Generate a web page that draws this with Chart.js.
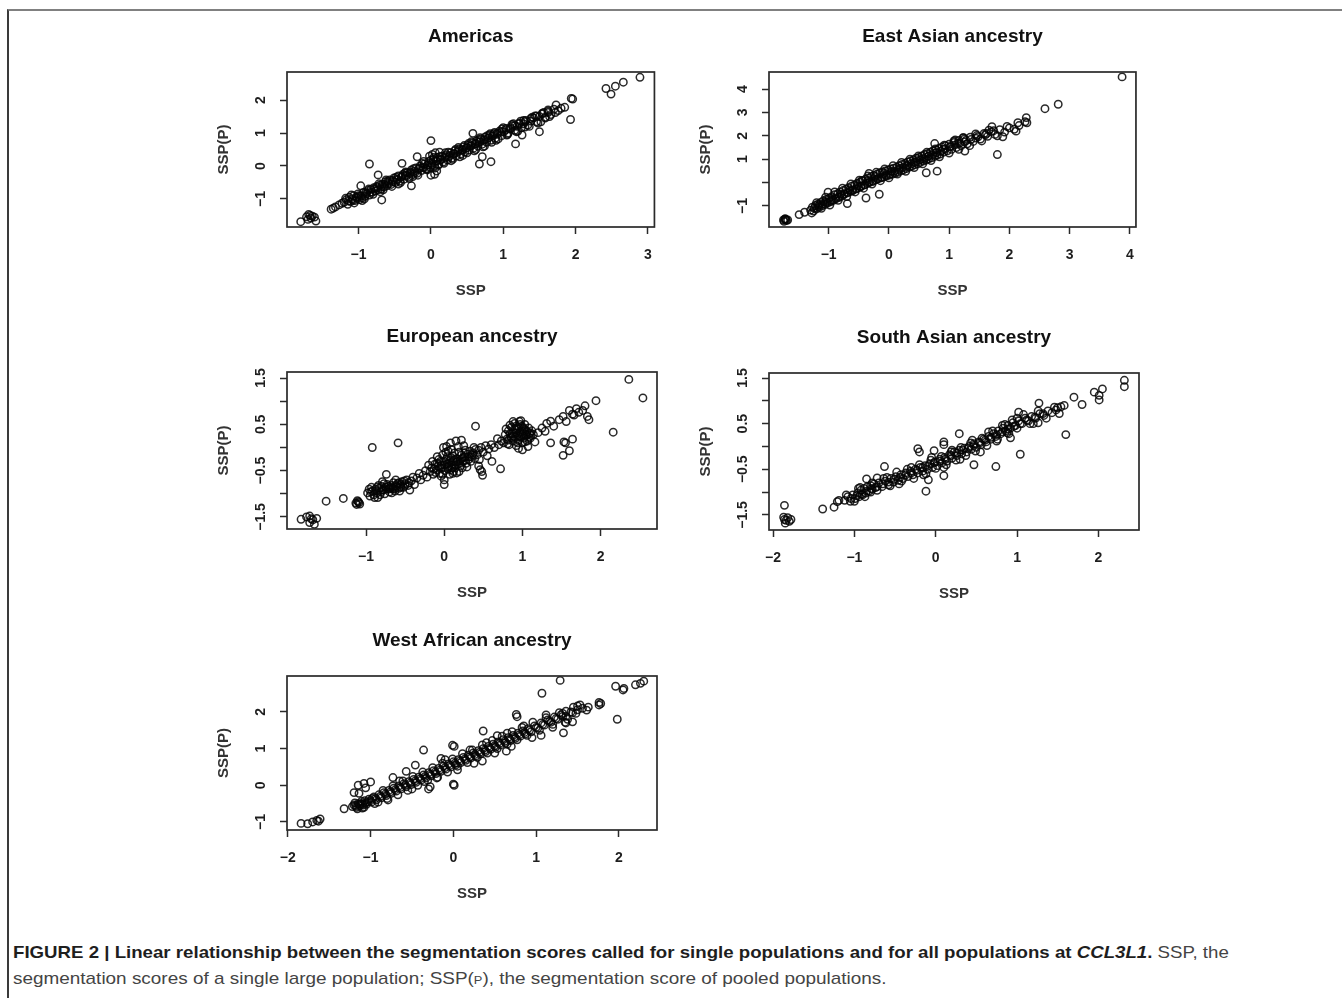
<!DOCTYPE html>
<html>
<head>
<meta charset="utf-8">
<script src="https://cdn.jsdelivr.net/npm/chart.js@4.4.0/dist/chart.umd.min.js"></script>
<style>
  body { margin: 0; background: #fff; width: 1342px; height: 998px; overflow: hidden; position: relative;
         font-family: "Liberation Sans", Arial, sans-serif; }
  .frame { position: absolute; left: 7px; top: 9px; width: 1345px; height: 1000px;
           border-top: 2px solid #808080; border-left: 2px solid #3a3a3a; }
  .panel { position: absolute; }
  .cap-line { position: absolute; left: 13px; white-space: nowrap; font-size: 17px; line-height: 26px;
              color: #444; transform-origin: 0 50%; }
  .cap-line b { color: #1e1e1e; }
  .sc { font-size: 68%; }
</style>
</head>
<body>
<div class="frame"></div>
<div id="panels"></div>
<div class="cap-line" data-w="1216" style="top:940px"><b>FIGURE 2 | Linear relationship between the segmentation scores called for single populations and for all populations at <i>CCL3L1</i>.</b> SSP, the</div>
<div class="cap-line" data-w="874" style="top:966px">segmentation scores of a single large population; SSP(<span class="sc">P</span>), the segmentation score of pooled populations.</div>

<script>
// ---- data: [SSP, SSP(P)] per sample ----
const americasPts = [
  [-1.80,-1.69],[-1.72,-1.54],[-1.69,-1.47],[-1.66,-1.58],[-1.64,-1.52],[-1.61,-1.55],[-1.59,-1.67],[-1.70,-1.62],[-1.67,-1.50],
  [-1.38,-1.31],[-1.35,-1.28],[-1.32,-1.24],[-1.27,-1.18],[-1.23,-1.13],
  [-1.20,-1.10],[-1.17,-1.02],[-1.15,-1.16],[-1.13,-0.95],[-1.11,-1.08],[-1.09,-1.00],[-1.07,-0.90],[-1.05,-1.05],
  [-1.03,-0.94],[-1.01,-0.85],[-0.99,-1.02],[-0.97,-0.90],[-0.95,-0.97],[-0.93,-0.80],[-0.91,-0.92],[-0.89,-0.84],
  [-0.87,-0.74],[-0.85,-0.88],[-0.83,-0.71],[-0.81,-0.80],[-0.79,-0.66],[-0.77,-0.76],[-0.75,-0.62],[-0.73,-0.72],
  [-0.71,-0.58],[-0.69,-0.70],[-0.67,-0.55],[-0.65,-0.64],[-0.63,-0.48],[-0.61,-0.60],[-0.59,-0.50],[-0.57,-0.42],
  [-0.55,-0.56],[-0.53,-0.44],[-0.51,-0.36],[-0.49,-0.50],[-0.47,-0.40],[-0.45,-0.30],[-0.43,-0.46],[-0.41,-0.34],
  [-0.39,-0.26],[-0.37,-0.40],[-0.35,-0.28],[-0.33,-0.20],[-0.31,-0.34],[-0.29,-0.22],[-0.27,-0.12],[-0.25,-0.26],
  [-0.23,-0.16],[-0.21,-0.06],[-0.19,-0.22],[-0.17,-0.10],[-0.15,0.00],[-0.13,-0.14],[-0.11,-0.04],[-0.09,0.06],
  [-0.07,-0.08],[-0.05,0.02],[-0.03,0.14],[-0.01,-0.04],[0.01,0.08],[0.03,0.20],[0.05,0.00],[0.07,0.14],
  [0.09,0.26],[0.11,0.06],[0.13,0.18],[0.15,0.30],[0.17,0.12],[0.19,0.24],[0.21,0.34],[0.23,0.18],
  [0.25,0.28],[0.27,0.40],[0.29,0.24],[0.31,0.36],[0.33,0.46],[0.35,0.30],[0.37,0.42],[0.39,0.52],
  [0.41,0.36],[0.43,0.48],[0.45,0.58],[0.47,0.42],[0.49,0.54],[0.51,0.64],[0.53,0.48],[0.55,0.60],
  [0.57,0.70],[0.59,0.54],[0.61,0.66],[0.63,0.76],[0.65,0.60],[0.67,0.72],[0.69,0.82],[0.71,0.66],
  [0.73,0.78],[0.75,0.88],[0.77,0.72],[0.79,0.84],[0.81,0.94],[0.83,0.78],[0.85,0.90],[0.87,0.98],
  [0.89,0.84],[0.92,0.96],[0.95,1.06],[0.98,0.92],[1.01,1.04],[1.04,1.14],[1.07,1.00],[1.10,1.12],
  [1.13,1.22],[1.16,1.08],[1.19,1.20],[1.22,1.30],[1.25,1.16],[1.28,1.28],[1.31,1.38],[1.34,1.24],
  [1.38,1.36],[1.42,1.46],[1.46,1.34],[1.50,1.50],[1.54,1.58],[1.58,1.48],[1.62,1.62],[1.66,1.56],
  [1.70,1.72],[1.76,1.68],
  [-1.10,-0.88],[-0.95,-1.05],[-0.70,-0.78],[-0.62,-0.42],[-0.45,-0.55],[-0.35,-0.18],[-0.25,-0.32],[-0.10,0.14],
  [-0.05,-0.12],[0.04,0.26],[0.10,0.02],[0.20,0.40],[0.30,0.20],[0.38,0.56],[0.44,0.32],[0.52,0.68],
  [0.60,0.46],[0.68,0.86],[0.74,0.60],[0.82,0.98],[0.90,0.78],[0.98,1.12],[1.05,0.94],[1.14,1.28],
  [1.20,1.05],[1.28,1.38],[1.36,1.20],[1.44,1.52],[1.52,1.34],[1.62,1.66],[1.58,1.45],[1.80,1.75],
  [-1.18,-0.98],[-1.06,-1.12],[-1.00,-0.90],[-0.92,-1.00],[-0.86,-0.70],[-0.80,-0.86],[-0.72,-0.54],[-0.66,-0.72],
  [-0.60,-0.46],[-0.54,-0.62],[-0.48,-0.34],[-0.42,-0.50],[-0.36,-0.22],[-0.30,-0.38],[-0.24,-0.08],[-0.18,-0.28],
  [-0.12,0.08],[-0.06,-0.10],[0.00,0.18],[0.06,-0.06],[0.12,0.28],[0.18,0.08],[0.24,0.42],[0.28,0.16],
  [0.34,0.50],[0.40,0.28],[0.46,0.62],[0.50,0.40],[0.56,0.74],[0.62,0.50],[0.66,0.80],[0.72,0.58],
  [0.78,0.92],[0.84,0.72],[0.88,1.02],[0.93,0.82],[1.00,1.16],[1.06,0.96],[1.12,1.26],[1.18,1.04],
  [1.24,1.36],[1.30,1.18],[1.40,1.48],[1.48,1.30],[1.56,1.62],[1.64,1.50],[1.72,1.62],
  [-1.14,-1.06],[-1.08,-1.04],[-1.02,-0.98],[-0.96,-0.92],[-0.90,-0.80],[-0.84,-0.80],[-0.78,-0.70],[-0.74,-0.66],
  [-0.68,-0.62],[-0.64,-0.56],[-0.58,-0.54],[-0.52,-0.48],[-0.46,-0.42],[-0.40,-0.32],[-0.34,-0.30],[-0.28,-0.18],
  [-0.22,-0.20],[-0.16,-0.06],[-0.10,-0.06],[-0.04,0.04],[0.02,0.04],[0.08,0.16],[0.14,0.20],[0.20,0.28],
  [0.26,0.32],[0.32,0.38],[0.38,0.46],[0.44,0.50],[0.50,0.56],[0.56,0.62],[0.62,0.68],[0.68,0.74],
  [0.74,0.80],[0.80,0.86],[0.86,0.92],[0.92,1.00],[0.98,1.04],[1.04,1.10],[1.10,1.16],[1.16,1.22],
  [1.22,1.28],[1.30,1.34],[1.38,1.44],[1.46,1.52],[1.54,1.60],[1.62,1.70],
  [0.00,-0.28],[0.02,0.35],[0.06,0.40],[0.08,-0.15],[-0.02,0.30],[0.05,-0.25],[0.12,0.42],
  [-0.85,0.06],[-0.73,-0.27],[-0.68,-1.03],[-0.97,-0.60],[-0.19,0.28],[-0.40,0.08],[-0.27,-0.60],
  [0.00,0.77],[0.58,0.99],[0.67,0.06],[0.71,0.28],[0.83,0.13],[1.17,0.67],[1.26,0.94],[1.50,1.04],
  [1.93,1.41],[1.96,2.03],[1.94,2.05],[1.73,1.85],[1.85,1.78],[2.42,2.35],[2.49,2.18],[2.55,2.42],
  [2.66,2.54],[2.89,2.69]
];

const eastAsianPts = [
  [-1.75,-1.60],[-1.72,-1.55],[-1.70,-1.62],[-1.74,-1.66],[-1.71,-1.58],[-1.68,-1.60],[-1.73,-1.57],
  [-1.49,-1.37],[-1.40,-1.27],
  [-1.30,-1.18],[-1.27,-1.05],[-1.25,-1.22],[-1.22,-0.98],[-1.20,-1.12],[-1.18,-0.92],[-1.16,-1.06],[-1.13,-0.85],
  [-1.11,-1.00],[-1.09,-0.78],[-1.06,-0.94],[-1.04,-0.72],[-1.02,-0.88],[-0.99,-0.66],[-0.97,-0.82],[-0.95,-0.60],
  [-0.92,-0.76],[-0.90,-0.52],[-0.88,-0.70],[-0.85,-0.48],[-0.83,-0.64],[-0.81,-0.40],[-0.78,-0.58],[-0.76,-0.34],
  [-0.74,-0.50],[-0.71,-0.28],[-0.69,-0.44],[-0.67,-0.22],[-0.64,-0.38],[-0.62,-0.16],[-0.60,-0.32],[-0.57,-0.10],
  [-0.55,-0.28],[-0.53,-0.04],[-0.50,-0.22],[-0.48,0.02],[-0.46,-0.16],[-0.43,0.08],[-0.41,-0.10],[-0.39,0.14],
  [-0.36,-0.04],[-0.34,0.20],[-0.32,0.02],[-0.29,0.26],[-0.27,0.06],[-0.25,0.30],[-0.22,0.12],[-0.20,0.36],
  [-0.18,0.16],[-0.15,0.42],[-0.13,0.20],[-0.11,0.46],[-0.08,0.24],[-0.06,0.50],[-0.04,0.28],[-0.01,0.54],
  [0.01,0.32],[0.03,0.58],[0.06,0.36],[0.08,0.62],[0.10,0.40],[0.13,0.66],[0.15,0.44],[0.17,0.72],
  [0.20,0.50],[0.22,0.78],[0.24,0.54],[0.27,0.82],[0.29,0.60],[0.31,0.88],[0.34,0.66],[0.36,0.92],
  [0.38,0.70],[0.41,0.98],[0.43,0.76],[0.45,1.04],[0.48,0.80],[0.50,1.08],[0.52,0.86],[0.55,1.14],
  [0.57,0.92],[0.59,1.20],[0.62,0.96],[0.64,1.24],[0.66,1.02],[0.69,1.30],[0.71,1.06],[0.73,1.36],
  [0.76,1.12],[0.78,1.40],[0.80,1.18],[0.83,1.46],[0.85,1.22],[0.88,1.52],[0.91,1.30],[0.94,1.58],
  [0.97,1.36],[1.00,1.64],[1.04,1.42],[1.08,1.72],[1.12,1.50],[1.16,1.80],[1.20,1.58],[1.25,1.86],
  [1.30,1.66],[1.35,1.94],[1.40,1.76],[1.46,2.02],[1.52,1.86],[1.58,2.10],[1.64,1.98],[1.70,2.18],
  [1.76,2.06],[1.84,2.26],[1.92,2.16],[2.00,2.34],[2.08,2.28],[2.16,2.44],[2.26,2.60],
  [-1.15,-0.95],[-1.05,-0.82],[-0.95,-0.74],[-0.80,-0.50],[-0.65,-0.30],[-0.52,-0.14],[-0.35,0.08],[-0.22,0.26],
  [-0.08,0.40],[0.05,0.48],[0.18,0.60],[0.30,0.74],[0.42,0.86],[0.54,1.00],[0.66,1.14],[0.78,1.28],
  [0.90,1.42],[1.02,1.54],[1.14,1.66],[1.28,1.80],[1.44,1.90],[1.60,2.04],
  [-1.28,-1.30],[-1.20,-0.86],[-1.12,-1.10],[-1.05,-0.62],[-0.98,-0.96],[-0.90,-0.40],[-0.84,-0.76],[-0.77,-0.24],
  [-0.70,-0.60],[-0.63,-0.06],[-0.56,-0.40],[-0.49,0.10],[-0.42,-0.24],[-0.35,0.28],[-0.28,-0.06],[-0.21,0.44],
  [-0.14,0.08],[-0.07,0.58],[0.00,0.20],[0.07,0.72],[0.14,0.36],[0.21,0.86],[0.28,0.48],[0.35,1.00],
  [0.42,0.64],[0.49,1.14],[0.56,0.80],[0.63,1.30],[0.70,0.94],[0.77,1.44],[0.84,1.10],[0.92,1.60],
  [1.00,1.26],[1.08,1.78],[1.16,1.42],[1.24,1.92],[1.34,1.58],[1.44,2.08],[1.54,1.78],[1.66,2.24],
  [1.80,2.00],[1.96,2.40],
  [-1.24,-1.10],[-1.17,-1.00],[-1.10,-0.92],[-1.03,-0.84],[-0.96,-0.78],[-0.89,-0.66],[-0.82,-0.60],[-0.75,-0.50],
  [-0.68,-0.42],[-0.61,-0.36],[-0.54,-0.26],[-0.47,-0.18],[-0.40,-0.10],[-0.33,0.00],[-0.26,0.06],[-0.19,0.16],
  [-0.12,0.22],[-0.05,0.32],[0.02,0.38],[0.09,0.48],[0.16,0.54],[0.23,0.64],[0.30,0.70],[0.37,0.80],
  [0.44,0.86],[0.51,0.96],[0.58,1.02],[0.65,1.12],[0.72,1.18],[0.79,1.28],[0.86,1.34],[0.93,1.44],
  [1.01,1.52],[1.09,1.60],[1.17,1.68],[1.26,1.74],[1.36,1.84],[1.48,1.96],[1.62,2.10],[1.74,2.22],
  [-1.01,-0.41],[-0.69,-0.90],[-0.38,-0.66],[-0.45,0.09],[-0.33,0.39],[-0.16,-0.50],[0.80,0.49],[0.62,0.42],
  [1.26,1.35],[1.23,1.92],[1.10,1.82],[0.76,1.67],[1.80,1.20],[1.89,1.96],[1.71,2.39],[2.11,2.20],
  [2.14,2.56],[2.29,2.56],[2.28,2.78],[2.59,3.16],[2.81,3.35],[3.87,4.52]
];

const europeanPts = [
  [-1.83,-1.55],[-1.76,-1.50],[-1.72,-1.48],[-1.68,-1.56],[-1.72,-1.62],[-1.63,-1.53],[-1.70,-1.54],[-1.66,-1.66],
  [-1.51,-1.16],[-1.29,-1.10],
  [-1.13,-1.20],[-1.10,-1.17],[-1.08,-1.22],[-1.11,-1.15],[-1.09,-1.19],[-1.12,-1.23],
  [-0.98,-0.98],[-0.95,-1.05],[-0.92,-0.94],[-0.90,-1.02],[-0.88,-0.90],[-0.86,-0.98],[-0.85,-1.08],[-0.83,-0.88],
  [-0.81,-0.96],[-0.80,-0.84],[-0.78,-0.92],[-0.76,-1.00],[-0.75,-0.86],[-0.73,-0.80],[-0.71,-0.90],[-0.70,-0.96],
  [-0.68,-0.82],[-0.66,-0.88],[-0.65,-0.76],[-0.63,-0.94],[-0.61,-0.84],[-0.60,-0.78],[-0.58,-0.88],[-0.56,-0.80],
  [-0.54,-0.74],[-0.52,-0.86],[-0.50,-0.78],[-0.48,-0.70],[-0.46,-0.82],[-0.44,-0.92],[-0.42,-0.72],[-0.40,-0.64],
  [-0.38,-0.80],[-0.74,-0.58],[-0.84,-0.82],[-0.93,-0.86],
  [-0.96,-0.90],[-0.89,-1.08],[-0.82,-1.02],[-0.77,-0.78],[-0.69,-0.88],[-0.62,-0.70],[-0.57,-0.94],[-0.51,-0.72],
  [-0.45,-0.76],[-0.79,-0.74],[-0.67,-0.98],[-0.55,-0.86],
  [-0.94,-0.96],[-0.87,-0.94],[-0.80,-0.92],[-0.74,-0.90],[-0.68,-0.86],[-0.62,-0.82],[-0.56,-0.84],[-0.50,-0.82],
  [-0.72,-0.84],[-0.64,-0.90],[-0.86,-0.86],[-0.58,-0.76],
  [-0.35,-0.66],[-0.32,-0.56],[-0.30,-0.70],[-0.27,-0.60],[-0.24,-0.50],[-0.22,-0.64],[-0.20,-0.38],
  [-0.18,-0.52],[-0.16,-0.44],[-0.14,-0.58],[-0.12,-0.36],[-0.10,-0.48],[-0.08,-0.40],[-0.06,-0.56],[-0.05,-0.30],
  [-0.03,-0.44],[-0.02,-0.16],[0.00,-0.38],[0.01,-0.50],[0.02,-0.26],[0.04,-0.42],[0.05,-0.08],[0.06,-0.34],
  [0.08,-0.48],[0.09,-0.22],[0.10,-0.38],[0.12,-0.30],[0.13,-0.12],[0.14,-0.44],[0.16,-0.24],[0.17,-0.36],
  [0.18,0.02],[0.20,-0.28],[0.21,-0.40],[0.22,-0.16],[0.24,-0.30],[0.25,0.04],[0.26,-0.20],[0.28,-0.34],
  [0.30,-0.14],[0.31,-0.26],[0.33,-0.08],[0.35,-0.20],[0.37,-0.12],[0.39,-0.24],[0.40,-0.04],[0.42,-0.16],
  [0.44,-0.06],[-0.01,0.00],[0.03,0.02],[0.08,0.10],[0.15,0.14],[0.22,0.16],[-0.04,-0.62],[0.07,-0.58],
  [0.11,-0.56],[0.19,-0.52],[0.44,-0.40],[0.46,-0.48],
  [-0.15,-0.30],[-0.11,-0.54],[-0.07,-0.26],[-0.02,-0.58],[0.02,-0.10],[0.05,-0.46],[0.09,-0.04],[0.12,-0.52],
  [0.15,-0.32],[0.19,-0.10],[0.23,-0.44],[0.27,-0.06],[0.29,-0.42],[0.34,-0.30],[0.38,0.00],[0.11,-0.18],
  [0.04,-0.20],[-0.09,-0.20],[0.24,-0.22],
  [-0.13,-0.46],[-0.09,-0.34],[-0.04,-0.38],[0.00,-0.30],[0.03,-0.36],[0.07,-0.28],[0.10,-0.44],[0.13,-0.26],
  [0.17,-0.30],[0.20,-0.34],[0.23,-0.24],[0.27,-0.28],[0.32,-0.20],[0.36,-0.16],[0.06,-0.40],[0.14,-0.38],
  [-0.06,-0.44],[0.26,-0.12],
  [0.00,-0.80],[0.00,-0.70],[0.16,-0.55],[0.40,0.46],[0.48,-0.52],[0.61,-0.30],[0.72,-0.46],[0.49,-0.60],
  [0.47,0.00],[0.50,-0.10],[0.53,0.04],[0.57,-0.03],[0.60,0.06],[0.64,0.00],[0.68,0.19],[0.70,0.06],
  [0.73,0.14],[0.55,-0.18],[0.45,-0.26],
  [0.76,0.10],[0.78,0.28],[0.80,0.18],[0.82,0.36],[0.83,0.06],[0.85,0.24],[0.86,0.44],[0.88,0.14],
  [0.89,0.32],[0.90,0.52],[0.91,0.22],[0.92,0.04],[0.93,0.40],[0.94,0.28],[0.95,0.16],[0.96,0.56],
  [0.97,0.34],[0.98,0.22],[0.99,0.46],[1.00,0.10],[1.01,0.30],[1.02,0.20],[1.03,0.50],[1.04,0.38],
  [1.05,0.26],[1.06,0.14],[1.08,0.42],[1.09,0.30],[1.10,0.20],[1.12,0.36],[1.14,0.28],[0.88,0.56],
  [0.95,-0.02],[1.00,-0.05],[1.07,0.02],[1.16,0.12],[0.84,0.48],[0.98,0.58],
  [0.79,0.40],[0.81,0.08],[0.87,0.30],[0.92,0.46],[0.94,0.10],[0.97,0.50],[1.01,0.40],[1.03,0.12],
  [1.06,0.34],[1.11,0.26],[0.86,0.20],[0.99,0.28],
  [0.84,0.30],[0.88,0.24],[0.92,0.32],[0.96,0.24],[1.00,0.34],[1.04,0.28],[1.08,0.22],[0.90,0.40],
  [0.95,0.44],[1.02,0.42],[0.82,0.16],[1.10,0.32],
  [1.20,0.32],[1.25,0.42],[1.29,0.35],[1.31,0.52],[1.36,0.57],[1.40,0.46],[1.47,0.60],[1.52,0.67],
  [1.56,0.56],[1.60,0.80],[1.64,0.72],[1.69,0.84],[1.72,0.76],[1.77,0.80],[1.80,0.90],[1.83,0.67],
  [1.85,0.60],[1.66,0.70],[1.36,0.10],[1.52,-0.17],[1.60,-0.07],[1.53,0.12],[1.55,0.10],[1.64,0.18],
  [1.94,1.01],[2.16,0.33],[2.36,1.47],[2.54,1.07],
  [-0.92,0.00],[-0.59,0.10]
];

const southAsianPts = [
  [-1.86,-1.29],[-1.87,-1.55],[-1.84,-1.62],[-1.80,-1.64],[-1.85,-1.68],[-1.82,-1.56],[-1.78,-1.60],[-1.86,-1.60],
  [-1.39,-1.37],[-1.25,-1.33],[-1.21,-1.21],[-1.19,-1.18],
  [-1.12,-1.18],[-1.08,-1.10],[-1.05,-1.20],[-1.02,-1.06],[-0.99,-1.14],[-0.96,-1.02],[-0.94,-1.10],[-0.92,-0.96],
  [-0.90,-1.06],[-0.88,-0.92],[-0.86,-1.02],[-0.84,-0.88],[-0.82,-0.98],[-0.80,-0.86],[-0.78,-0.94],[-0.76,-0.82],
  [-0.74,-0.90],[-0.70,-0.80],[-0.66,-0.88],[-0.62,-0.76],[-0.58,-0.84],[-0.55,-0.70],[-0.52,-0.78],[-0.49,-0.66],
  [-0.46,-0.74],[-0.43,-0.62],[-0.40,-0.70],[-0.37,-0.58],[-0.34,-0.66],[-0.31,-0.54],[-0.28,-0.62],[-0.25,-0.50],
  [-0.22,-0.58],[-0.19,-0.46],[-0.16,-0.54],[-0.13,-0.42],[-0.10,-0.50],[-0.07,-0.38],[-0.04,-0.46],[-0.01,-0.34],
  [0.02,-0.42],[0.05,-0.28],[0.08,-0.36],[0.11,-0.24],[0.14,-0.32],[0.17,-0.18],[0.20,-0.26],[0.23,-0.12],
  [0.26,-0.20],[0.29,-0.08],[0.32,-0.16],[0.35,-0.04],[0.38,-0.12],[0.41,0.00],[0.44,-0.06],[0.47,0.06],
  [0.50,-0.02],[0.53,0.10],[0.56,0.04],[0.59,0.16],[0.62,0.10],[0.65,0.22],[0.68,0.16],[0.71,0.28],
  [0.74,0.22],[0.77,0.34],[0.80,0.28],[0.83,0.40],[0.86,0.34],[0.89,0.46],[0.92,0.40],[0.95,0.52],
  [0.98,0.46],[1.02,0.56],[1.06,0.50],[1.10,0.62],[1.14,0.56],[1.18,0.66],[1.23,0.62],[1.28,0.72],
  [1.33,0.68],[1.38,0.78],[1.43,0.74],[1.58,0.90],
  [-0.95,-0.92],[-0.80,-1.00],[-0.60,-0.68],[-0.45,-0.82],[-0.30,-0.46],[-0.15,-0.62],[-0.05,-0.24],[0.10,-0.46],
  [0.20,-0.08],[0.30,-0.28],[0.45,0.14],[0.55,-0.12],[0.65,0.32],[0.75,0.12],[0.85,0.48],[0.90,0.28],
  [1.00,0.62],[1.20,0.50],
  [-1.10,-1.06],[-1.00,-1.20],[-0.93,-0.90],[-0.87,-1.10],[-0.78,-0.80],[-0.72,-0.96],[-0.64,-0.70],[-0.56,-0.86],
  [-0.48,-0.56],[-0.42,-0.76],[-0.35,-0.50],[-0.27,-0.70],[-0.20,-0.40],[-0.12,-0.60],[-0.06,-0.30],[0.00,-0.48],
  [0.07,-0.22],[0.13,-0.40],[0.19,-0.12],[0.25,-0.30],[0.31,-0.02],[0.37,-0.20],[0.43,0.08],[0.49,-0.10],
  [0.57,0.18],[0.63,0.02],[0.70,0.34],[0.76,0.16],[0.82,0.46],[0.88,0.30],[0.94,0.58],[1.00,0.40],
  [1.08,0.70],[1.16,0.50],[1.26,0.78],[1.36,0.62],[1.46,0.86],
  [-1.04,-1.14],[-0.97,-1.08],[-0.91,-1.04],[-0.85,-0.98],[-0.79,-0.92],[-0.72,-0.88],[-0.65,-0.82],[-0.58,-0.78],
  [-0.51,-0.72],[-0.44,-0.68],[-0.37,-0.62],[-0.30,-0.58],[-0.23,-0.52],[-0.16,-0.46],[-0.09,-0.42],[-0.02,-0.36],
  [0.05,-0.32],[0.12,-0.28],[0.19,-0.20],[0.26,-0.14],[0.33,-0.08],[0.40,-0.04],[0.47,0.02],[0.54,0.08],
  [0.61,0.14],[0.68,0.20],[0.75,0.26],[0.82,0.32],[0.89,0.38],[0.96,0.44],[1.04,0.50],[1.12,0.58],
  [1.22,0.64],[1.32,0.72],
  [-0.63,-0.44],[-0.85,-0.71],[-0.72,-0.69],[-0.22,-0.05],[-0.20,-0.12],[-0.12,-0.98],[-0.09,-0.73],[-0.02,-0.09],
  [0.10,0.10],[0.10,0.04],[0.10,-0.64],[0.29,0.28],[0.47,-0.40],[0.74,-0.44],[0.92,0.19],[1.04,-0.17],
  [1.02,0.75],[1.27,0.95],[1.26,0.52],[1.60,0.26],[1.70,1.08],[1.80,0.92],[1.50,0.85],[1.54,0.87],
  [1.48,0.80],[1.52,0.72],[1.95,1.19],[2.01,1.12],[2.05,1.26],[2.01,1.02],[2.32,1.45],[2.32,1.31]
];

const westAfricanPts = [
  [-1.84,-1.04],[-1.76,-1.05],[-1.70,-1.00],[-1.65,-0.96],[-1.61,-0.92],[-1.63,-0.98],
  [-1.32,-0.64],
  [-1.20,-0.20],[-1.15,0.00],[-1.08,0.05],[-1.00,0.09],[-1.14,-0.22],[-1.06,-0.07],
  [-1.22,-0.58],[-1.19,-0.48],[-1.17,-0.60],[-1.15,-0.50],[-1.13,-0.56],[-1.11,-0.44],[-1.09,-0.54],[-1.07,-0.42],
  [-1.05,-0.52],[-1.02,-0.38],[-0.99,-0.46],[-0.96,-0.32],[-0.93,-0.40],[-0.90,-0.26],[-0.87,-0.34],[-0.84,-0.20],
  [-0.81,-0.28],[-0.78,-0.14],[-0.75,-0.22],[-0.72,-0.08],[-0.69,-0.16],[-0.66,-0.02],[-0.63,-0.10],[-0.60,0.04],
  [-0.57,-0.04],[-0.54,0.10],[-0.51,0.02],[-0.48,0.16],[-0.45,0.08],[-0.42,0.22],[-0.39,0.14],[-0.36,0.28],
  [-0.33,0.20],[-0.30,0.34],[-0.27,0.26],[-0.24,0.40],[-0.21,0.32],[-0.18,0.46],[-0.15,0.38],[-0.12,0.52],
  [-0.09,0.44],[-0.06,0.58],[-0.03,0.50],[0.00,0.64],[0.03,0.56],[0.06,0.70],[0.09,0.62],[0.12,0.76],
  [0.15,0.68],[0.18,0.82],[0.21,0.74],[0.24,0.88],[0.27,0.80],[0.30,0.94],[0.33,0.86],[0.36,1.00],
  [0.39,0.92],[0.42,1.06],[0.45,0.98],[0.48,1.12],[0.51,1.04],[0.54,1.18],[0.57,1.10],[0.60,1.24],
  [0.63,1.16],[0.66,1.30],[0.69,1.22],[0.72,1.36],[0.75,1.28],[0.78,1.42],[0.81,1.34],[0.84,1.48],
  [0.87,1.40],[0.90,1.54],[0.94,1.46],[0.98,1.62],[1.02,1.56],[1.06,1.70],[1.10,1.64],[1.14,1.78],
  [1.18,1.72],[1.22,1.86],[1.26,1.80],[1.30,1.92],[1.36,1.88],[1.42,2.00],[1.48,1.96],[1.56,2.10],
  [-1.10,-0.62],[-0.95,-0.50],[-0.80,-0.36],[-0.65,0.12],[-0.50,-0.10],[-0.35,0.10],[-0.20,0.20],[-0.10,0.70],
  [0.05,0.42],[0.20,0.96],[0.25,0.60],[0.40,1.16],[0.50,0.88],[0.65,1.42],[0.70,1.06],[0.85,1.62],
  [0.95,1.30],[1.12,1.92],[1.20,1.58],[1.35,1.72],
  [-1.20,-0.54],[-1.16,-0.64],[-1.12,-0.50],[-1.08,-0.60],[-1.04,-0.46],[-0.98,-0.36],[-0.91,-0.46],[-0.85,-0.14],
  [-0.79,-0.40],[-0.73,-0.02],[-0.67,-0.26],[-0.61,0.12],[-0.55,-0.14],[-0.49,0.24],[-0.43,0.00],[-0.37,0.36],
  [-0.31,0.14],[-0.25,0.48],[-0.19,0.22],[-0.13,0.60],[-0.07,0.36],[-0.01,0.72],[0.05,0.52],[0.11,0.86],
  [0.17,0.62],[0.23,0.96],[0.29,0.76],[0.35,1.10],[0.41,0.88],[0.47,1.22],[0.53,1.00],[0.59,1.34],
  [0.65,1.12],[0.71,1.46],[0.77,1.24],[0.83,1.58],[0.89,1.36],[0.96,1.72],[1.04,1.50],[1.12,1.84],
  [1.20,1.66],[1.28,1.98],[1.38,1.80],[1.50,2.06],
  [-1.18,-0.56],[-1.14,-0.52],[-1.10,-0.50],[-1.06,-0.48],[-1.00,-0.42],[-0.94,-0.36],[-0.88,-0.30],[-0.82,-0.24],
  [-0.76,-0.18],[-0.70,-0.12],[-0.64,-0.06],[-0.58,0.00],[-0.52,0.06],[-0.46,0.12],[-0.40,0.18],[-0.34,0.24],
  [-0.28,0.30],[-0.22,0.36],[-0.16,0.42],[-0.10,0.48],[-0.04,0.54],[0.02,0.60],[0.08,0.66],[0.14,0.72],
  [0.20,0.78],[0.26,0.84],[0.32,0.90],[0.38,0.96],[0.44,1.02],[0.50,1.08],[0.56,1.14],[0.62,1.20],
  [0.68,1.26],[0.74,1.32],[0.80,1.38],[0.86,1.44],[0.92,1.50],[1.00,1.58],[1.08,1.66],[1.16,1.74],
  [1.24,1.82],[1.32,1.88],[1.44,1.98],
  [-0.36,0.96],[-0.01,1.09],[0.01,1.06],[0.00,0.03],[0.01,0.00],[-0.30,-0.10],[-0.28,-0.04],[-0.73,0.21],
  [-0.57,0.38],[-0.46,0.55],[-0.15,0.73],[0.35,0.66],[0.36,1.48],[0.53,1.35],[0.64,0.93],[0.76,1.93],
  [0.77,1.87],[1.07,2.51],[1.29,2.86],[1.06,1.36],[1.33,1.43],[1.36,1.70],[1.44,1.73],[1.32,1.96],
  [1.36,2.02],[1.45,2.13],[1.50,2.16],[1.53,2.19],[1.63,2.13],[1.61,2.05],[1.76,2.26],[1.76,2.19],
  [1.78,2.23],[1.98,1.80],[1.96,2.70],[2.06,2.64],[2.05,2.60],[2.20,2.74],[2.26,2.78],[2.30,2.84]
];

// ---- axis ticks and labels ----
const americasXTicks = [-1, 0, 1, 2, 3];
const americasXLabels = ['\u22121', '0', '1', '2', '3'];
const americasYTicks = [-1, 0, 1, 2];
const americasYLabels = ['\u22121', '0', '1', '2'];

const eastAsianXTicks = [-1, 0, 1, 2, 3, 4];
const eastAsianXLabels = ['\u22121', '0', '1', '2', '3', '4'];
const eastAsianYTicks = [-1, 0, 1, 2, 3, 4];
const eastAsianYLabels = ['\u22121', '', '1', '2', '3', '4'];

const europeanXTicks = [-1, 0, 1, 2];
const europeanXLabels = ['\u22121', '0', '1', '2'];
const europeanYTicks = [-1.5, -1, -0.5, 0, 0.5, 1, 1.5];
const europeanYLabels = ['\u22121.5', '', '\u22120.5', '', '0.5', '', '1.5'];

const southAsianXTicks = [-2, -1, 0, 1, 2];
const southAsianXLabels = ['\u22122', '\u22121', '0', '1', '2'];
const southAsianYTicks = [-1.5, -1, -0.5, 0, 0.5, 1, 1.5];
const southAsianYLabels = ['\u22121.5', '', '\u22120.5', '', '0.5', '', '1.5'];

const westAfricanXTicks = [-2, -1, 0, 1, 2];
const westAfricanXLabels = ['\u22122', '\u22121', '0', '1', '2'];
const westAfricanYTicks = [-1, 0, 1, 2];
const westAfricanYLabels = ['\u22121', '0', '1', '2'];

// panel list: plot box in page pixels [left, top, right, bottom] and axis ranges
const panels = [
  { title: 'Americas', pts: americasPts, box: [287, 72, 657, 227], x: [-1.99, 3.09], y: [-1.85, 2.85],
    xt: americasXTicks, xl: americasXLabels, yt: americasYTicks, yl: americasYLabels },
  { title: 'East Asian ancestry', pts: eastAsianPts, box: [769, 72, 1139, 227], x: [-1.99, 4.1], y: [-1.9, 4.73],
    xt: eastAsianXTicks, xl: eastAsianXLabels, yt: eastAsianYTicks, yl: eastAsianYLabels },
  { title: 'European ancestry', pts: europeanPts, box: [287, 372, 657, 529], x: [-2.01, 2.72], y: [-1.76, 1.63],
    xt: europeanXTicks, xl: europeanXLabels, yt: europeanYTicks, yl: europeanYLabels },
  { title: 'South Asian ancestry', pts: southAsianPts, box: [769, 373, 1139, 530], x: [-2.05, 2.5], y: [-1.83, 1.61],
    xt: southAsianXTicks, xl: southAsianXLabels, yt: southAsianYTicks, yl: southAsianYLabels },
  { title: 'West African ancestry', pts: westAfricanPts, box: [287, 676, 657, 830], x: [-2.01, 2.46], y: [-1.22, 2.98],
    xt: westAfricanXTicks, xl: westAfricanXLabels, yt: westAfricanYTicks, yl: westAfricanYLabels }
];

const FONT = '"Liberation Sans", Arial, sans-serif';
const AXIS_W = 80, AXIS_H = 80, TOP_H = 62, RIGHT_PAD = 8, TICK_LEN = 7, TICK_FONT = 14;

Chart.defaults.font.family = FONT;
Chart.defaults.color = '#222';

// R-style box around the plot region
const boxFrame = {
  id: 'boxFrame',
  afterDatasetsDraw(chart) {
    const { ctx, chartArea: a } = chart;
    ctx.save();
    ctx.strokeStyle = '#2a2a2a';
    ctx.lineWidth = 1.7;
    ctx.strokeRect(a.left, a.top, a.right - a.left, a.bottom - a.top);
    ctx.restore();
  }
};

const measure = document.createElement('canvas').getContext('2d');
measure.font = 'bold ' + TICK_FONT + 'px ' + FONT;

const host = document.getElementById('panels');
panels.forEach(p => {
  const [L, T, R, B] = p.box;
  const div = document.createElement('div');
  div.className = 'panel';
  div.style.left = (L - AXIS_W) + 'px';
  div.style.top = (T - TOP_H) + 'px';
  div.style.width = (R - L + AXIS_W + RIGHT_PAD) + 'px';
  div.style.height = (B - T + TOP_H + AXIS_H) + 'px';
  const cv = document.createElement('canvas');
  div.appendChild(cv);
  host.appendChild(div);

  // centre the rotated y labels a fixed distance left of the box
  const widest = Math.max(...p.yl.map(s => measure.measureText(s).width));
  const yPad = 26 - TICK_LEN - widest / 2;

  new Chart(cv, {
    type: 'scatter',
    data: {
      datasets: [{
        data: p.pts.map(([x, y]) => ({ x, y })),
        pointStyle: 'circle',
        pointRadius: 3.7,
        pointBorderWidth: 1.5,
        pointBackgroundColor: 'rgba(0,0,0,0)',
        pointBorderColor: 'rgba(5,5,5,0.85)'
      }]
    },
    options: {
      responsive: true,
      maintainAspectRatio: false,
      animation: false,
      events: [],
      layout: { padding: { left: 0, top: 0, right: RIGHT_PAD, bottom: 0 } },
      plugins: {
        legend: { display: false },
        tooltip: { enabled: false },
        title: {
          display: true, text: p.title, fullSize: false, color: '#111',
          font: { size: 19, weight: 'bold' },
          padding: { top: 15.1, bottom: 24.1 }
        }
      },
      scales: {
        x: {
          type: 'linear', min: p.x[0], max: p.x[1],
          afterBuildTicks: s => { s.ticks = p.xt.map(v => ({ value: v })); },
          afterFit: s => { s.height = AXIS_H; },
          border: { display: false },
          grid: { drawOnChartArea: false, drawTicks: true, tickLength: TICK_LEN, tickColor: '#2a2a2a', tickWidth: 1.5 },
          ticks: { autoSkip: false, maxRotation: 0, padding: 13, color: '#1e1e1e',
                   font: { size: TICK_FONT, weight: 'bold' }, callback: (v, i) => p.xl[i] },
          title: { display: true, text: 'SSP', color: '#333', font: { size: 15, weight: 'bold' },
                   padding: { top: 0, bottom: 7 } }
        },
        y: {
          type: 'linear', min: p.y[0], max: p.y[1],
          afterBuildTicks: s => { s.ticks = p.yt.map(v => ({ value: v })); },
          afterFit: s => { s.width = AXIS_W; },
          border: { display: false },
          grid: { drawOnChartArea: false, drawTicks: true, tickLength: TICK_LEN, tickColor: '#2a2a2a', tickWidth: 1.5 },
          ticks: { autoSkip: false, minRotation: 90, maxRotation: 90, crossAlign: 'center', padding: yPad,
                   color: '#1e1e1e', font: { size: TICK_FONT, weight: 'bold' }, callback: (v, i) => p.yl[i] },
          title: { display: true, text: 'SSP(P)', color: '#333', font: { size: 15, weight: 'bold' },
                   padding: { top: 8, bottom: 0 } }
        }
      }
    },
    plugins: [boxFrame]
  });
});

// stretch caption lines to the measured widths of the original
document.querySelectorAll('.cap-line').forEach(el => {
  const k = (+el.dataset.w) / el.scrollWidth;
  el.style.transform = 'scaleX(' + k.toFixed(4) + ')';
});
</script>
</body>
</html>
